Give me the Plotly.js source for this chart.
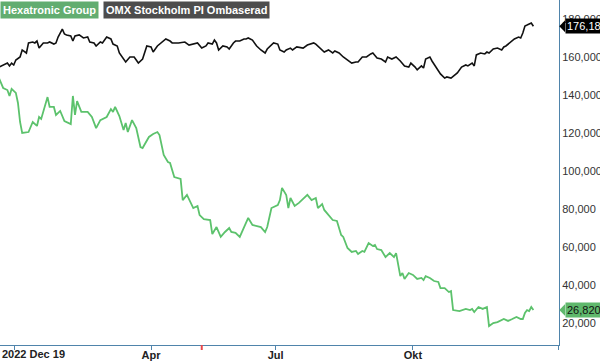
<!DOCTYPE html>
<html>
<head>
<meta charset="utf-8">
<script src="https://cdn.plot.ly/plotly-3.0.1.min.js"></script>
<style>
  html, body { margin: 0; padding: 0; background: #fff; }
  #chart { width: 600px; height: 362px; }
</style>
</head>
<body>
<div id="chart"></div>
<script>
// ---- Data ----
const seriesNames = ['Hexatronic Group', 'OMX Stockholm PI Ombaserad'];

const hexDates = [
  '2022-12-20','2022-12-22','2022-12-27','2022-12-28','2022-12-29',
  '2023-01-02','2023-01-03','2023-01-04','2023-01-05','2023-01-11','2023-01-13','2023-01-17','2023-01-18','2023-01-19','2023-01-24','2023-01-25','2023-01-27','2023-01-30',
  '2023-02-01','2023-02-03','2023-02-08','2023-02-09','2023-02-10','2023-02-13','2023-02-15','2023-02-20','2023-02-22','2023-02-24','2023-02-28',
  '2023-03-03','2023-03-07','2023-03-08','2023-03-09','2023-03-13','2023-03-15','2023-03-16','2023-03-17','2023-03-21','2023-03-23','2023-03-27','2023-03-28','2023-03-31',
  '2023-04-04','2023-04-06','2023-04-11','2023-04-13','2023-04-17','2023-04-18','2023-04-20','2023-04-25','2023-04-26','2023-04-28',
  '2023-05-04','2023-05-08','2023-05-09','2023-05-11','2023-05-16','2023-05-17','2023-05-22','2023-05-24','2023-05-26','2023-05-30','2023-05-31',
  '2023-06-02','2023-06-07','2023-06-09','2023-06-13','2023-06-15','2023-06-19','2023-06-21','2023-06-26','2023-06-27','2023-06-29',
  '2023-07-04','2023-07-05','2023-07-06','2023-07-10','2023-07-11','2023-07-12','2023-07-14','2023-07-18','2023-07-20','2023-07-24','2023-07-26','2023-07-28','2023-07-31',
  '2023-08-02','2023-08-03','2023-08-07','2023-08-09','2023-08-11','2023-08-15','2023-08-16','2023-08-18','2023-08-22','2023-08-24','2023-08-25','2023-08-29','2023-08-30',
  '2023-09-01','2023-09-05','2023-09-06','2023-09-07','2023-09-11','2023-09-13','2023-09-15','2023-09-19','2023-09-20','2023-09-22','2023-09-25','2023-09-26','2023-09-28',
  '2023-10-02','2023-10-04','2023-10-06','2023-10-09','2023-10-10','2023-10-12','2023-10-16','2023-10-18','2023-10-19','2023-10-23','2023-10-25','2023-10-26','2023-10-27',
  '2023-11-01','2023-11-06','2023-11-08','2023-11-09','2023-11-10','2023-11-14','2023-11-16','2023-11-20','2023-11-21','2023-11-23','2023-11-27','2023-11-30',
  '2023-12-04','2023-12-06','2023-12-08','2023-12-12','2023-12-13','2023-12-14','2023-12-15','2023-12-18','2023-12-19','2023-12-20'
];
const hexValues = [
  148900,143700,142600,139500,143200,
  141100,135800,125800,120000,120500,125800,123700,128400,127400,138900,133700,133700,129500,
  131600,126300,124700,139500,129500,136800,131100,131100,128400,122600,126800,
  128400,132600,131100,133700,128900,121600,125300,120500,126800,122600,112600,112100,117900,
  119500,120500,118900,108400,104700,104200,96800,95800,84700,87400,
  80500,81600,76800,74700,74200,66800,70500,65300,67900,70000,67900,
  67400,65300,70000,75300,71600,71100,70500,67900,70500,80500,
  82100,84700,91100,87400,80500,85800,81600,83200,85300,87400,84700,85800,80500,
  82600,79500,76800,74200,73700,66300,65300,59500,57400,57900,56300,57900,57400,
  62100,60500,61100,58900,58400,54700,56800,54700,56800,44700,46300,43200,46300,
  45300,43200,43700,42600,44700,43700,42100,41600,38400,38400,36300,36800,26800,
  26300,27400,26800,27400,25800,28400,27400,28400,18400,20000,20500,22100,
  21100,22100,23200,22100,22100,25300,26800,26300,28400,26820
];

const omxDates = [
  '2022-12-20','2022-12-22','2022-12-27','2022-12-28','2022-12-29','2022-12-30',
  '2023-01-02','2023-01-04','2023-01-05','2023-01-10','2023-01-11','2023-01-13','2023-01-16','2023-01-17','2023-01-18','2023-01-20','2023-01-24','2023-01-25','2023-01-27','2023-01-30','2023-01-31',
  '2023-02-02','2023-02-03','2023-02-06','2023-02-08','2023-02-09','2023-02-10','2023-02-14','2023-02-16','2023-02-20','2023-02-21','2023-02-23','2023-02-24','2023-02-28',
  '2023-03-01','2023-03-03','2023-03-07','2023-03-08','2023-03-10','2023-03-13','2023-03-15','2023-03-16','2023-03-20','2023-03-22','2023-03-23','2023-03-24','2023-03-28','2023-03-30',
  '2023-04-03','2023-04-04','2023-04-06','2023-04-12','2023-04-14','2023-04-18','2023-04-19','2023-04-24','2023-04-26','2023-04-27',
  '2023-05-02','2023-05-04','2023-05-08','2023-05-10','2023-05-12','2023-05-15','2023-05-17','2023-05-19','2023-05-22','2023-05-23','2023-05-25','2023-05-29','2023-05-30',
  '2023-06-01','2023-06-02','2023-06-07','2023-06-09','2023-06-12','2023-06-13','2023-06-15','2023-06-19','2023-06-21','2023-06-26','2023-06-27','2023-06-30',
  '2023-07-04','2023-07-05','2023-07-07','2023-07-10','2023-07-12','2023-07-13','2023-07-17','2023-07-19','2023-07-20','2023-07-24','2023-07-27','2023-07-28',
  '2023-08-01','2023-08-03','2023-08-07','2023-08-09','2023-08-10','2023-08-14','2023-08-16','2023-08-18','2023-08-22','2023-08-24','2023-08-25','2023-08-29','2023-08-31',
  '2023-09-04','2023-09-05','2023-09-07','2023-09-11','2023-09-13','2023-09-14','2023-09-18','2023-09-20','2023-09-22','2023-09-26','2023-09-28','2023-09-29',
  '2023-10-03','2023-10-04','2023-10-06','2023-10-09','2023-10-10','2023-10-12','2023-10-13','2023-10-17','2023-10-19','2023-10-23','2023-10-24','2023-10-26','2023-10-30','2023-10-31',
  '2023-11-02','2023-11-06','2023-11-07','2023-11-09','2023-11-10','2023-11-13','2023-11-15','2023-11-17','2023-11-20','2023-11-21','2023-11-23','2023-11-27','2023-11-29','2023-11-30',
  '2023-12-01','2023-12-06','2023-12-07','2023-12-11','2023-12-12','2023-12-13','2023-12-14','2023-12-15','2023-12-19','2023-12-20'
];
const omxValues = [
  154700,155800,156800,155300,156800,155800,
  158400,160000,163700,162100,167400,167900,167400,168400,164700,167400,167400,167900,166800,167400,170500,
  174700,172100,171600,171100,168400,171100,171600,170000,170500,167900,167400,165800,167900,
  167400,170500,169500,166800,165800,162100,158900,157400,160000,160000,158400,156800,158900,165800,
  165300,162600,165800,167900,169500,168400,167400,167400,167900,167900,
  166300,166800,167400,164700,165800,167400,166800,168900,167400,163700,165800,165300,164200,
  167400,168400,168400,169500,169500,170000,168900,165800,163700,162100,164200,167400,
  166800,163700,162600,163700,164700,163700,165300,164700,164700,166300,167400,166800,
  164700,162600,163700,162100,163200,162100,160000,158400,156800,157400,157400,160000,160000,
  161600,162100,159500,158900,157400,160000,158900,160000,157900,155300,154700,156800,
  154700,153200,155300,154200,158900,160000,157900,154200,151100,148900,149500,148900,150500,151600,
  154700,155800,155300,156800,155300,161100,162100,161600,162600,162100,164200,164700,163700,165300,
  165800,168900,169500,170500,170000,172600,176300,176800,177900,176184
];

// Axis ticks and calendar
const xTickDates = ['2022-12-30 14:00', '2023-04-03', '2023-07-03', '2023-10-02', '2024-01-05 02:00'];
const xTickLabels = ['2022 Dec 19', 'Apr', 'Jul', 'Okt', ''];
const yTickValues = [20000, 40000, 60000, 80000, 100000, 120000, 140000, 160000, 180000];
const marketHolidays = ['2022-12-26','2023-01-06','2023-04-07','2023-04-10','2023-05-01','2023-05-18','2023-06-06','2023-06-23'];
const eventDates = ['2023-05-10'];

// ---- Styles ----
const FONT = 'Liberation Sans, Arial, sans-serif';
const AXIS_BLUE = '#4f84ab';
const GREEN = '#5cc26c';
const GREEN_TAG = '#5fb86c';
const LEGEND_GREEN = '#62ad70';
const LEGEND_GREY = '#4d4d4d';

const traces = [
  {
    x: omxDates, y: omxValues, type: 'scatter', mode: 'lines', name: seriesNames[1],
    line: { color: '#111111', width: 1.6 }, hoverinfo: 'skip'
  },
  {
    x: hexDates, y: hexValues, type: 'scatter', mode: 'lines', name: seriesNames[0],
    line: { color: GREEN, width: 1.8 }, hoverinfo: 'skip'
  }
];

const fmt = v => Math.round(v).toLocaleString('en-US');
const lastHex = hexValues[hexValues.length - 1];
const lastOmx = omxValues[omxValues.length - 1];
const TAG_HALF = 3200; // half tag height in data units (~6 px)

function tagTip(v, color) {
  return {
    type: 'path', xref: 'paper', yref: 'y',
    path: `M 1.0005,${v} L 1.011,${v + TAG_HALF} L 1.011,${v - TAG_HALF} Z`,
    fillcolor: color, line: { width: 0 }, layer: 'above'
  };
}

const layout = {
  width: 600, height: 362,
  margin: { l: 0, r: 41, t: 0, b: 17, pad: 0 },
  paper_bgcolor: '#ffffff', plot_bgcolor: '#ffffff',
  showlegend: false, hovermode: false,
  xaxis: {
    type: 'date',
    range: ['2022-12-20 12:00', '2024-01-05 03:00'],
    rangebreaks: [{ bounds: ['sat', 'mon'] }, { values: marketHolidays }],
    tickmode: 'array', tickvals: xTickDates,
    ticktext: xTickLabels.map((t, i) => i === 0 ? '' : t),
    ticks: 'outside', ticklen: 4, tickwidth: 1, tickcolor: AXIS_BLUE,
    ticklabelstandoff: -4,
    showline: true, linecolor: AXIS_BLUE, linewidth: 1,
    showgrid: false, zeroline: false,
    tickfont: { family: FONT, size: 11, color: '#222222', weight: 'bold' },
    fixedrange: true
  },
  yaxis: {
    side: 'right',
    range: [8421, 190000],
    tickmode: 'array', tickvals: yTickValues, tickformat: ',d',
    ticks: '', showline: true, linecolor: AXIS_BLUE, linewidth: 1,
    showgrid: false, zeroline: false,
    tickfont: { family: FONT, size: 11, color: '#333333' },
    fixedrange: true
  },
  shapes: [
    ...eventDates.map(d => ({
      type: 'line', xref: 'x', yref: 'paper', x0: d, x1: d,
      ysizemode: 'pixel', yanchor: 0, y0: -5, y1: 0,
      line: { color: '#e8474b', width: 2 }
    })),
    tagTip(lastOmx, '#000000'),
    tagTip(lastHex, GREEN_TAG)
  ],
  annotations: [
    {
      xref: 'paper', yref: 'paper', x: 0, y: 1, xanchor: 'left', yanchor: 'top',
      xshift: 0, yshift: -1,
      text: '<b>' + seriesNames[0] + '</b>', showarrow: false,
      font: { family: FONT, size: 11, color: '#ffffff' },
      bgcolor: LEGEND_GREEN, borderpad: 2
    },
    {
      xref: 'paper', yref: 'paper', x: 103 / 559, y: 1, xanchor: 'left', yanchor: 'top',
      yshift: -1,
      text: '<b>' + seriesNames[1] + '</b>', showarrow: false,
      font: { family: FONT, size: 11, color: '#ffffff' },
      bgcolor: LEGEND_GREY, borderpad: 2
    },
    {
      xref: 'paper', yref: 'paper', x: 0, y: 0, xanchor: 'left', yanchor: 'top',
      yshift: -1,
      text: '<b>' + xTickLabels[0] + '</b>', showarrow: false,
      font: { family: FONT, size: 11, color: '#222222' }
    },
    {
      xref: 'paper', yref: 'y', x: 1, y: lastOmx, xanchor: 'left', yanchor: 'middle',
      xshift: 6, text: fmt(lastOmx), showarrow: false,
      font: { family: FONT, size: 11, color: '#ffffff' },
      bgcolor: '#000000', borderpad: 1
    },
    {
      xref: 'paper', yref: 'y', x: 1, y: lastHex, xanchor: 'left', yanchor: 'middle',
      xshift: 6, text: fmt(lastHex), showarrow: false,
      font: { family: FONT, size: 11, color: '#111111' },
      bgcolor: GREEN_TAG, borderpad: 1
    }
  ]
};

Plotly.newPlot('chart', traces, layout, { staticPlot: true, displayModeBar: false });
</script>
</body>
</html>
